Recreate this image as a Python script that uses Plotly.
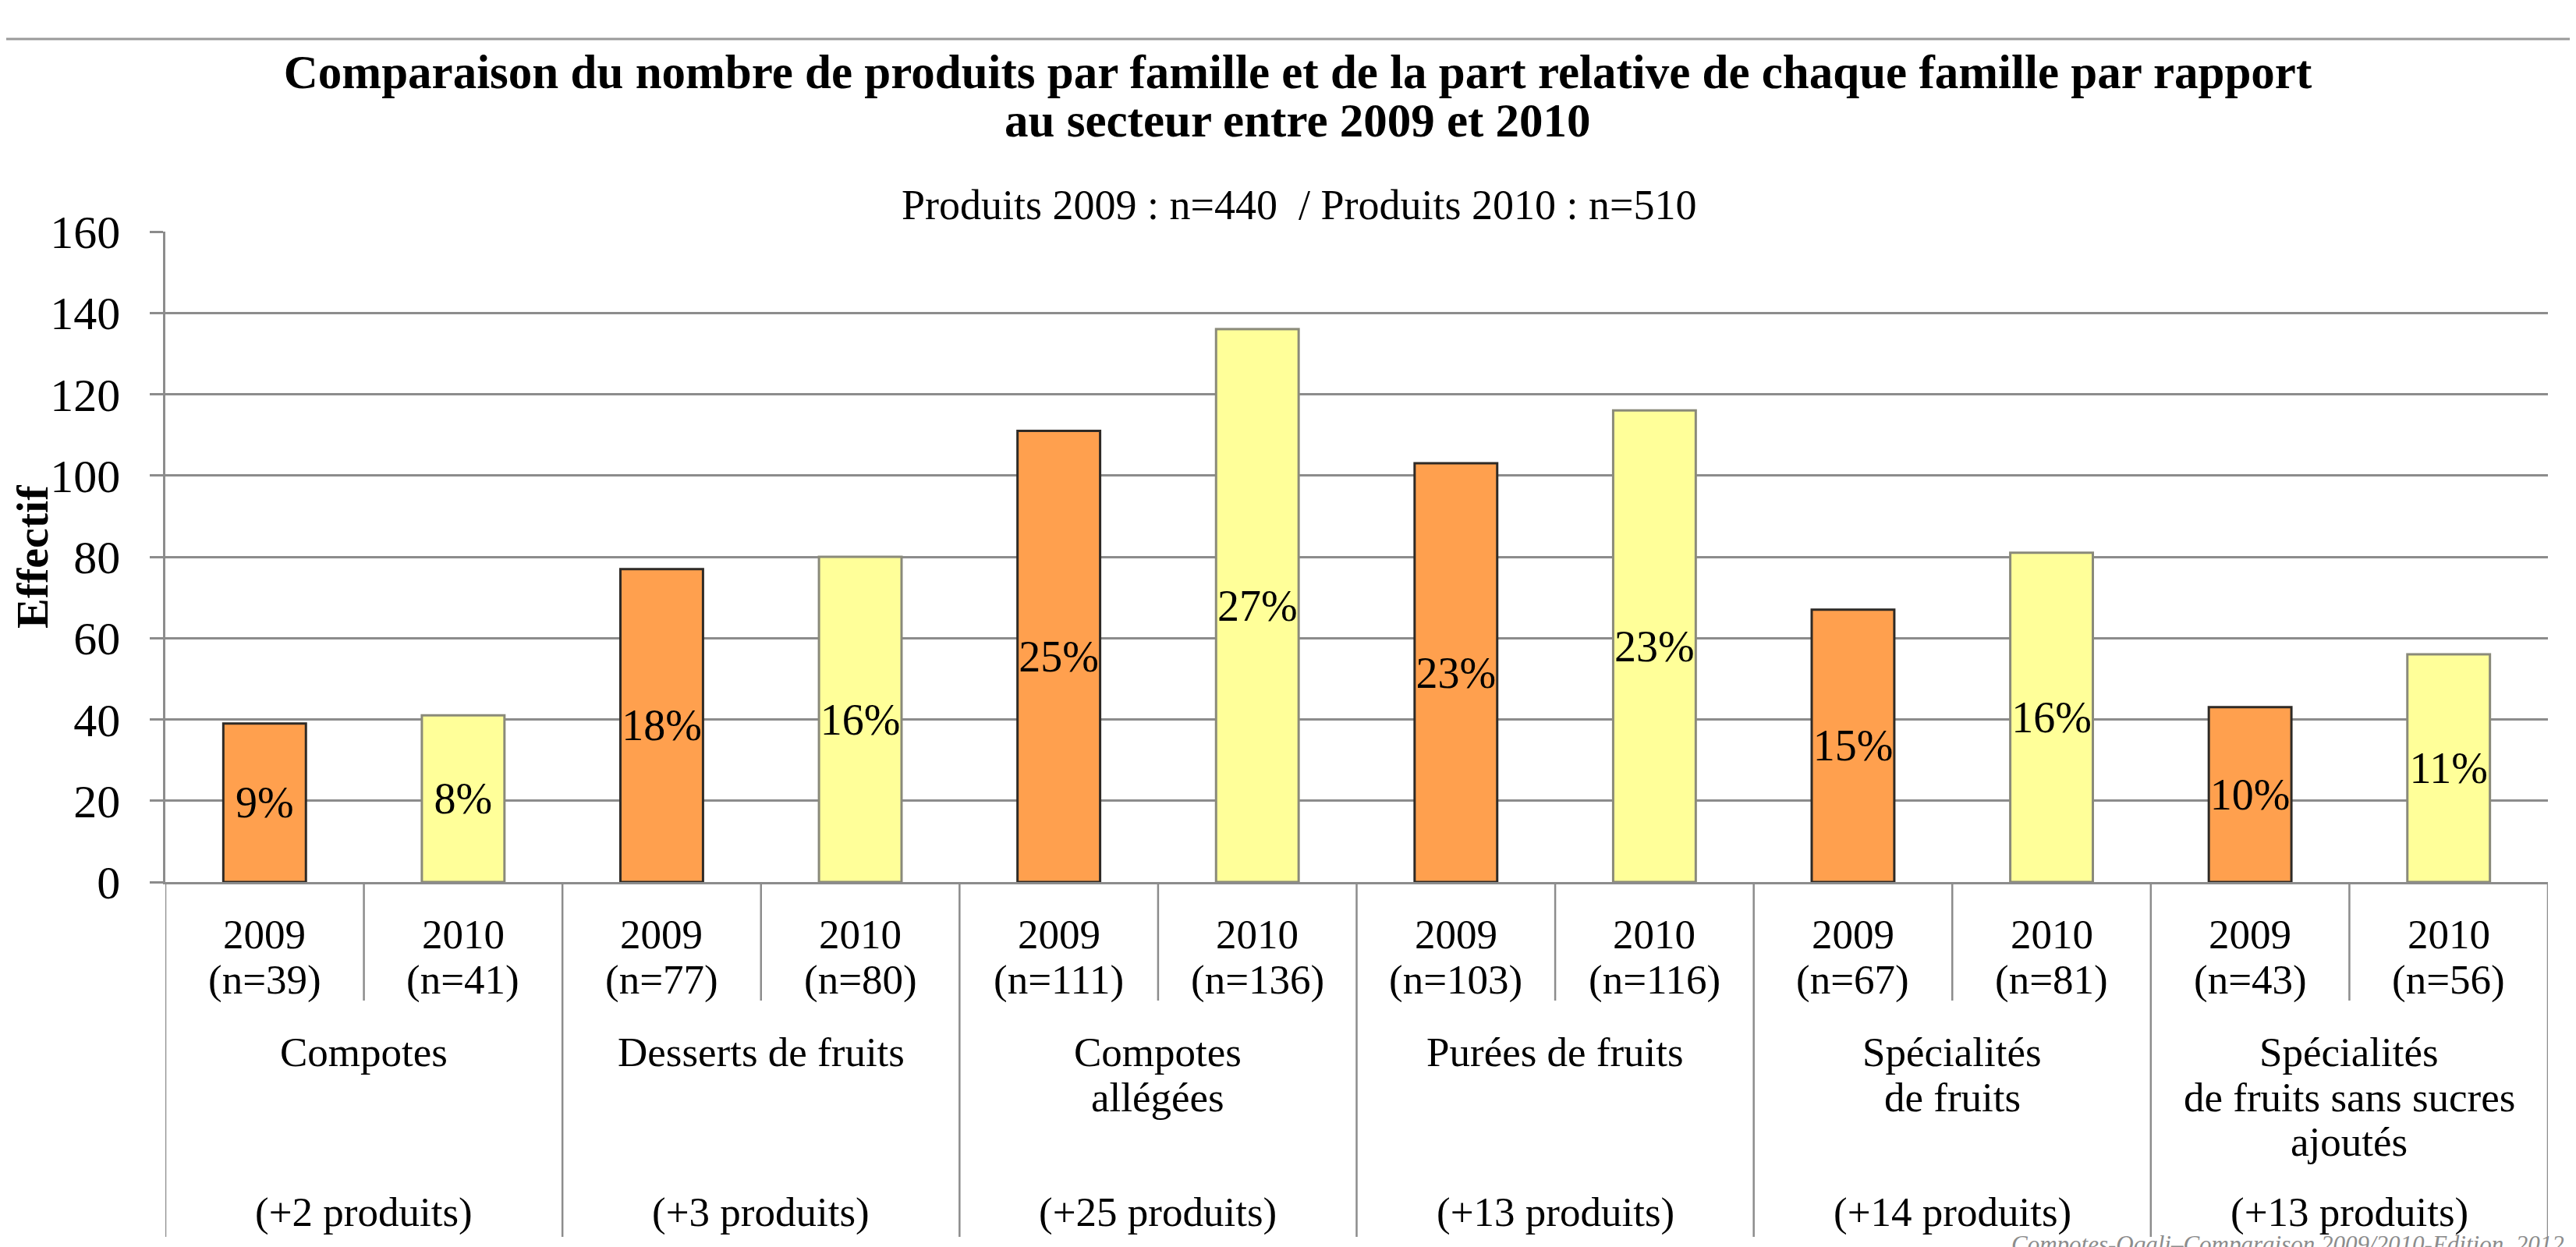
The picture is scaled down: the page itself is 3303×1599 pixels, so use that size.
import plotly.graph_objects as go

# ---------------- data ----------------
families = ["Compotes", "Desserts de fruits", "Compotes<br>allégées", "Purées de fruits",
            "Spécialités<br>de fruits", "Spécialités<br>de fruits sans sucres<br>ajoutés"]
years = ["2009", "2010"]
n_2009 = [39, 77, 111, 103, 67, 43]
n_2010 = [41, 80, 136, 116, 81, 56]
pct_2009 = [9, 18, 25, 23, 15, 10]
pct_2010 = [8, 16, 27, 23, 16, 11]
total_2009 = 440
total_2010 = 510
y_ticks = [0, 20, 40, 60, 80, 100, 120, 140, 160]

title_line1 = "Comparaison du nombre de produits par famille et de la part relative de chaque famille par rapport"
title_line2 = "au secteur entre 2009 et 2010"
subtitle_text = f"Produits 2009 : n={total_2009}  / Produits 2010 : n={total_2010}"
y_title = "Effectif"
watermark = "Compotes-Oqali–Comparaison 2009/2010-Edition  2012"

# ---------------- geometry helpers ----------------
W, H = 3303, 1599
ML, MR, MT, MB = 204, 44, 289, 476
PH = H - MT - MB  # plot height in px
ZERO = H - MB


def py(Y):
    """pixel row -> paper y"""
    return (ZERO - Y) / PH


def px(X):
    return (X - ML) / (W - ML - MR)


SERIF = "Liberation Serif"
GRID = "#8c8c8c"
ORANGE = "#FFA04E"
YELLOW = "#FFFF99"

x09 = [2 * i for i in range(len(families))]
x10 = [2 * i + 1 for i in range(len(families))]

fig = go.Figure()
fig.add_trace(go.Bar(
    x=x09, y=n_2009, name="2009", width=0.416,
    marker=dict(color=ORANGE, line=dict(color="#2e2a26", width=3)),
    text=[f"{p}%" for p in pct_2009], textposition="inside", insidetextanchor="middle",
    textangle=0, constraintext="none",
    textfont=dict(family=SERIF, size=56, color="black"),
))
fig.add_trace(go.Bar(
    x=x10, y=n_2010, name="2010", width=0.416,
    marker=dict(color=YELLOW, line=dict(color="#8a8a7a", width=3)),
    text=[f"{p}%" for p in pct_2010], textposition="inside", insidetextanchor="middle",
    textangle=0, constraintext="none",
    textfont=dict(family=SERIF, size=56, color="black"),
))

annotations = []
shapes = []
LBL = 53

# year / n labels
for i in range(len(families)):
    for xi, yr, n in ((x09[i], years[0], n_2009[i]), (x10[i], years[1], n_2010[i])):
        for k, line in enumerate([yr, f"(n={n})"]):
            annotations.append(dict(x=xi, xref="x", y=py(1190 + 58 * k), yref="paper",
                                    text=line, showarrow=False, xanchor="center", yanchor="middle",
                                    font=dict(family=SERIF, size=LBL, color="black")))
    # family name lines
    for k, line in enumerate(families[i].split("<br>")):
        annotations.append(dict(x=(x09[i] + x10[i]) / 2, xref="x", y=py(1341 + 57.5 * k), yref="paper",
                                text=line, showarrow=False, xanchor="center", yanchor="middle",
                                font=dict(family=SERIF, size=LBL, color="black")))
    # change in number of products
    annotations.append(dict(x=(x09[i] + x10[i]) / 2, xref="x", y=py(1546), yref="paper",
                            text=f"(+{n_2010[i] - n_2009[i]} produits)", showarrow=False,
                            xanchor="center", yanchor="middle",
                            font=dict(family=SERIF, size=LBL, color="black")))

# dividers: short ones between years, long ones between families
n_cat = 2 * len(families)
for b in range(n_cat + 1):
    xb = b - 0.5
    long_div = (b % 2 == 0)
    shapes.append(dict(type="line", xref="x", yref="paper", x0=xb, x1=xb,
                       y0=0, y1=py(1578 if long_div else 1275),
                       line=dict(color=GRID, width=2.5)))

# top rule line
shapes.append(dict(type="line", xref="paper", yref="paper", x0=px(0), x1=px(W),
                   y0=py(42), y1=py(42), line=dict(color="#9a9a9a", width=3)))

# second title line
annotations.append(dict(x=px(1656), xref="paper", y=py(147), yref="paper", text=f"<b>{title_line2}</b>",
                        showarrow=False, xanchor="center", yanchor="middle",
                        font=dict(family=SERIF, size=61, color="black")))
# subtitle
annotations.append(dict(x=px(1658), xref="paper", y=py(255), yref="paper", text=subtitle_text,
                        showarrow=False, xanchor="center", yanchor="middle",
                        font=dict(family=SERIF, size=54, color="black")))
# y-axis title
annotations.append(dict(x=px(33), xref="paper", y=0.5, yref="paper", text=f"<b>{y_title}</b>",
                        textangle=-90, showarrow=False, xanchor="center", yanchor="middle",
                        font=dict(family=SERIF, size=58, color="black")))
# watermark (cut by the bottom edge, as in the source)
annotations.append(dict(x=px(3282), xref="paper", y=py(1568), yref="paper", text=f"<i>{watermark}</i>",
                        showarrow=False, xanchor="right", yanchor="top",
                        font=dict(family=SERIF, size=31, color="#8c8c8c")))

fig.update_layout(
    width=W, height=H,
    margin=dict(l=ML, r=MR, t=MT, b=MB, autoexpand=False),
    paper_bgcolor="white", plot_bgcolor="white",
    barmode="overlay", showlegend=False,
    title=dict(text=f"<b>{title_line1}</b>", x=1656 / W, xref="container",
               xanchor="center", y=1 - 84 / H, yanchor="middle",
               font=dict(family=SERIF, size=61, color="black")),
    xaxis=dict(range=[-0.5, n_cat - 0.5], showticklabels=False, ticks="", showgrid=False,
               zeroline=False, showline=True, linecolor=GRID, linewidth=2.5, fixedrange=True),
    yaxis=dict(range=[0, 160], tickvals=y_ticks, showgrid=True, gridcolor=GRID, gridwidth=2.5,
               ticks="outside", ticklen=17, tickcolor=GRID, tickwidth=2.5,
               ticklabelstandoff=26,
               showline=True, linecolor=GRID, linewidth=2.5, zeroline=False,
               tickfont=dict(family=SERIF, size=60, color="black")),
    annotations=annotations,
    shapes=shapes,
)

fig.write_html("out.html")
